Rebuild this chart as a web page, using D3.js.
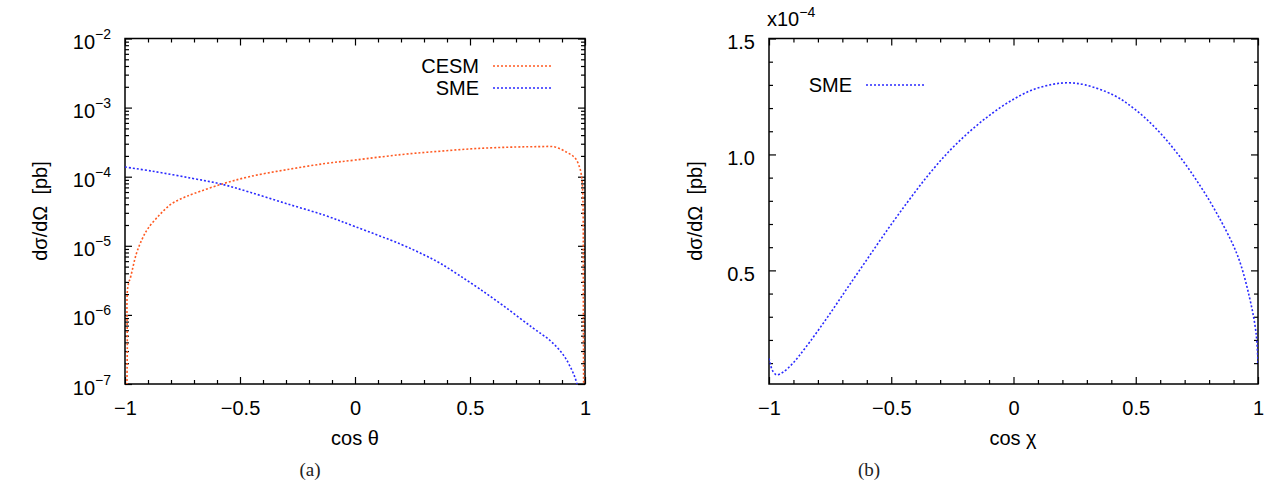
<!DOCTYPE html>
<html>
<head>
<meta charset="utf-8">
<script src="https://cdn.jsdelivr.net/npm/d3@7"></script>
<style>
  body { margin: 0; background: white; }
  text { font-family: 'Liberation Sans', Arial, sans-serif; fill: black; }
  text.caption { font-family: 'Liberation Serif', 'DejaVu Serif', serif; fill: #222; }
</style>
</head>
<body>
<div id="chart-area"></div>
<script>
// panel (a): cos theta vs dsigma/dOmega, log scale
const cesmX = [-0.995, -0.99, -0.988, -0.975, -0.95, -0.925, -0.9, -0.85, -0.8, -0.75, -0.7, -0.58, -0.46, -0.3, -0.13, 0.0, 0.2, 0.37, 0.54, 0.7, 0.8, 0.87, 0.922, 0.957, 0.978, 0.987, 0.991, 0.993, 0.995];
const cesmY = [1e-8, 3.2e-7, 2.5e-6, 3.6e-6, 7.8e-6, 1.26e-5, 1.78e-5, 2.8e-5, 4.0e-5, 4.9e-5, 5.7e-5, 7.8e-5, 1.0e-4, 1.26e-4, 1.55e-4, 1.74e-4, 2.09e-4, 2.34e-4, 2.57e-4, 2.69e-4, 2.72e-4, 2.69e-4, 2.24e-4, 1.86e-4, 1.32e-4, 8.9e-5, 4.6e-5, 1e-6, 1e-8];

const smeAX = [-1, -0.88, -0.71, -0.58, -0.46, -0.3, -0.13, 0, 0.2, 0.3, 0.37, 0.45, 0.54, 0.65, 0.77, 0.85, 0.9, 0.935, 0.965, 0.98];
const smeAY = [1.38e-4, 1.20e-4, 9.5e-5, 7.8e-5, 6.0e-5, 4.1e-5, 2.75e-5, 1.9e-5, 1.05e-5, 7.4e-6, 5.6e-6, 3.8e-6, 2.4e-6, 1.32e-6, 6.6e-7, 4.2e-7, 2.8e-7, 1.8e-7, 1.0e-7, 3e-8];

// panel (b): cos chi vs dsigma/dOmega, linear scale
const smeBX = [-1.0, -0.995, -0.987, -0.97, -0.944, -0.902, -0.852, -0.768, -0.684, -0.6, -0.515, -0.431, -0.347, -0.263, -0.178, -0.094, -0.01, 0.074, 0.158, 0.226, 0.293, 0.411, 0.495, 0.579, 0.663, 0.747, 0.832, 0.916, 0.966, 0.992, 1.0];
const smeBY = [0.12e-4, 0.10e-4, 0.071e-4, 0.05e-4, 0.06e-4, 0.10e-4, 0.165e-4, 0.287e-4, 0.417e-4, 0.546e-4, 0.676e-4, 0.798e-4, 0.913e-4, 1.014e-4, 1.10e-4, 1.172e-4, 1.232e-4, 1.277e-4, 1.302e-4, 1.309e-4, 1.300e-4, 1.255e-4, 1.196e-4, 1.116e-4, 1.014e-4, 0.891e-4, 0.745e-4, 0.565e-4, 0.38e-4, 0.23e-4, 0.10e-4];

const xTicks = [-1, -0.5, 0, 0.5, 1];
const xMinor = d3.range(-0.9, 1, 0.1).map((d) => +d.toFixed(1)).filter((d) => !xTicks.includes(d));
const logTicks = [1e-7, 1e-6, 1e-5, 1e-4, 1e-3, 1e-2];
const logMinor = [];
logTicks.slice(0, -1).forEach((dec) => {
    for (let k = 2; k <= 9; k++) logMinor.push(dec * k);
});
const linTicks = [0.5e-4, 1.0e-4, 1.5e-4];
const linMinor = [0.1, 0.2, 0.3, 0.4, 0.6, 0.7, 0.8, 0.9, 1.1, 1.2, 1.3, 1.4].map((d) => d * 1e-4);

const orange = '#ff5a22';
const blue = '#2a2aff';
const fontSize = 20;
const supSize = 14;

const svg = d3.select('#chart-area')
    .append('svg')
    .attr('width', 1286)
    .attr('height', 491)
    .attr('style', 'background-color: white');

function fmtX(d) {
    return d < 0 ? '\u2212' + Math.abs(d) : String(d);
}

function makePanel(id, left, top, width, height) {
    const g = svg.append('g').attr('transform', `translate(${left}, ${top})`);
    g.append('clipPath').attr('id', id)
        .append('rect').attr('width', width).attr('height', height);
    return g;
}

// draws inside ticks on all four sides
function drawTicks(g, x, y, width, height, yMajor, yMinor, yFormat) {
    const bottom = g.append('g').attr('transform', `translate(0, ${height})`)
        .call(d3.axisBottom(x).tickValues(xTicks).tickSizeInner(-7).tickSizeOuter(0).tickPadding(17).tickFormat(fmtX));
    g.append('g').attr('transform', `translate(0, ${height})`)
        .call(d3.axisBottom(x).tickValues(xMinor).tickSizeInner(-4).tickSizeOuter(0).tickFormat(''));
    g.append('g')
        .call(d3.axisTop(x).tickValues(xTicks).tickSizeInner(-7).tickSizeOuter(0).tickFormat(''));
    g.append('g')
        .call(d3.axisTop(x).tickValues(xMinor).tickSizeInner(-4).tickSizeOuter(0).tickFormat(''));

    const leftAxis = g.append('g')
        .call(d3.axisLeft(y).tickValues(yMajor).tickSizeInner(-7).tickSizeOuter(0).tickPadding(14).tickFormat(yFormat));
    g.append('g')
        .call(d3.axisLeft(y).tickValues(yMinor).tickSizeInner(-4).tickSizeOuter(0).tickFormat(''));
    g.append('g').attr('transform', `translate(${width}, 0)`)
        .call(d3.axisRight(y).tickValues(yMajor).tickSizeInner(-7).tickSizeOuter(0).tickFormat(''));
    g.append('g').attr('transform', `translate(${width}, 0)`)
        .call(d3.axisRight(y).tickValues(yMinor).tickSizeInner(-4).tickSizeOuter(0).tickFormat(''));

    g.selectAll('.tick line').attr('stroke', '#000').attr('stroke-width', 1.2);
    g.selectAll('.domain').remove();
    g.selectAll('.tick text')
        .attr('font-size', fontSize)
        .attr('fill', '#000');

    g.append('rect')
        .attr('width', width)
        .attr('height', height)
        .attr('fill', 'none')
        .attr('stroke', '#000')
        .attr('stroke-width', 1.5);

    return { bottom, leftAxis };
}

function drawCurve(g, clipId, xs, ys, x, y, color) {
    const pts = xs.map((d, i) => [d, ys[i]]);
    const line = d3.line()
        .x((d) => x(d[0]))
        .y((d) => y(d[1]))
        .curve(d3.curveCatmullRom.alpha(0.5));
    g.append('path')
        .datum(pts)
        .attr('clip-path', `url(#${clipId})`)
        .attr('d', line)
        .attr('fill', 'none')
        .attr('stroke', color)
        .attr('stroke-width', 1.6)
        .attr('stroke-dasharray', '2,2');
}

function legendRow(g, label, x0, x1, yy, color) {
    g.append('text')
        .attr('x', x0 - 14)
        .attr('y', yy)
        .attr('dy', '0.35em')
        .attr('text-anchor', 'end')
        .attr('font-size', fontSize)
        .text(label);
    g.append('line')
        .attr('x1', x0).attr('x2', x1)
        .attr('y1', yy).attr('y2', yy)
        .attr('stroke', color)
        .attr('stroke-width', 1.6)
        .attr('stroke-dasharray', '2,2');
}

function yTitle(g, cx, cy) {
    g.append('text')
        .attr('transform', `translate(${cx}, ${cy}) rotate(-90)`)
        .attr('text-anchor', 'middle')
        .attr('dy', '0.35em')
        .attr('font-size', fontSize)
        .attr('xml:space', 'preserve')
        .text('d\u03c3/d\u03a9  [pb]');
}

// ---------- Panel (a)
const aW = 460, aH = 345.5;
const pa = makePanel('clip-a', 125, 38.5, aW, aH);
const xa = d3.scaleLinear().domain([-1, 1]).range([0, aW]);
const ya = d3.scaleLog().domain([1e-7, 1e-2]).range([aH, 0]);

const axA = drawTicks(pa, xa, ya, aW, aH, logTicks, logMinor, () => '10');
axA.leftAxis.selectAll('.tick text')
    .attr('dy', '0.5em')
    .each(function (d) {
        d3.select(this).append('tspan')
            .attr('dy', -10)
            .attr('font-size', supSize)
            .text('\u2212' + Math.round(-Math.log10(d)));
    });

drawCurve(pa, 'clip-a', cesmX, cesmY, xa, ya, orange);
drawCurve(pa, 'clip-a', smeAX, smeAY, xa, ya, blue);

legendRow(svg, 'CESM', 493, 551, 66, orange);
legendRow(svg, 'SME', 493, 551, 88, blue);

yTitle(svg, 40, 211);
svg.append('text').attr('x', 355).attr('y', 445).attr('text-anchor', 'middle')
    .attr('font-size', fontSize).text('cos \u03b8');
svg.append('text').attr('class', 'caption').attr('x', 310).attr('y', 476).attr('text-anchor', 'middle')
    .attr('font-size', 19).text('(a)');

// ---------- Panel (b)
const bW = 489, bH = 345.5;
const pb = makePanel('clip-b', 769, 38.5, bW, bH);
const xb = d3.scaleLinear().domain([-1, 1]).range([0, bW]);
const yb = d3.scaleLinear().domain([0.01e-4, 1.5e-4]).range([bH, 0]);

drawTicks(pb, xb, yb, bW, bH, linTicks, linMinor, (d) => d3.format('.1f')(d / 1e-4));
pb.selectAll('.tick text').filter(function () { return this.getAttribute('dy') === '0.32em'; })
    .attr('dy', '0.5em');

drawCurve(pb, 'clip-b', smeBX, smeBY, xb, yb, blue);

legendRow(svg, 'SME', 866, 924, 85, blue);

const mult = svg.append('text').attr('x', 767).attr('y', 26).attr('font-size', fontSize).text('x10');
mult.append('tspan').attr('dy', -9).attr('font-size', supSize).text('\u22124');

yTitle(svg, 695, 211);
svg.append('text').attr('x', 1013).attr('y', 445).attr('text-anchor', 'middle')
    .attr('font-size', fontSize).text('cos \u03c7');
svg.append('text').attr('class', 'caption').attr('x', 869).attr('y', 476).attr('text-anchor', 'middle')
    .attr('font-size', 19).text('(b)');
</script>
</body>
</html>
